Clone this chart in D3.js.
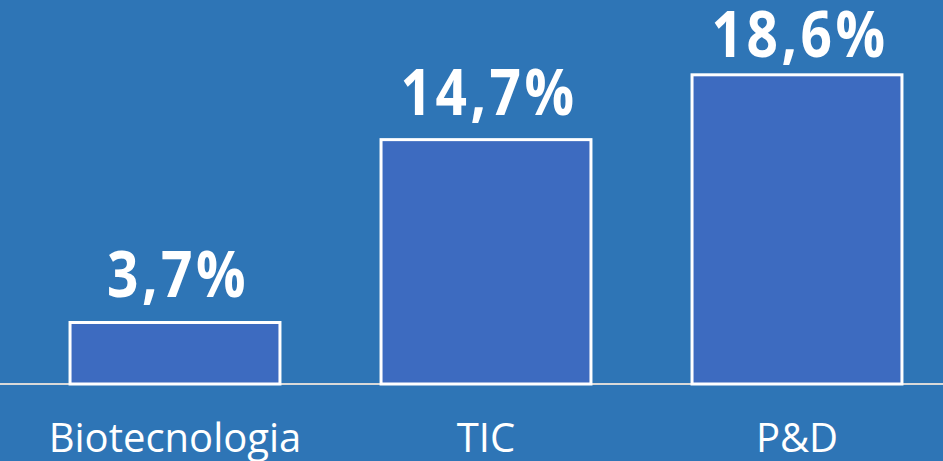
<!DOCTYPE html>
<html>
<head>
<meta charset="utf-8">
<script src="https://cdn.jsdelivr.net/npm/d3@7"></script>
<style>
  html, body { margin: 0; padding: 0; background: #2E75B6; }
  svg { display: block; }
</style>
</head>
<body>
<svg id="chart" width="943" height="461"></svg>
<script>
// Share of each sector
const categories = ["Biotecnologia", "TIC", "P&D"];
const values = [3.7, 14.7, 18.6];
const valueLabels = ["3,7%", "14,7%", "18,6%"];

const W = 943, H = 461;
const baseY = 384;

const svg = d3.select("#chart");

svg.append("rect").attr("width", W).attr("height", H).attr("fill", "#2E75B6");

const x = d3.scaleBand()
  .domain(categories)
  .range([19.5, 952.5])
  .paddingInner(0.325)
  .paddingOuter(0.1625);

const y = d3.scaleLinear()
  .domain([0, 23.1])
  .range([baseY, 0]);

// baseline
svg.append("line")
  .attr("x1", 0).attr("x2", W)
  .attr("y1", baseY).attr("y2", baseY)
  .attr("stroke", "#D9D9D9")
  .attr("stroke-width", 2);

// bars
svg.selectAll("rect.bar")
  .data(values)
  .join("rect")
  .attr("class", "bar")
  .attr("x", (d, i) => x(categories[i]))
  .attr("y", d => y(d))
  .attr("width", x.bandwidth())
  .attr("height", d => baseY - y(d))
  .attr("fill", "#3D6BC0")
  .attr("stroke", "#FFFFFF")
  .attr("stroke-width", 3);

// value labels
svg.selectAll("text.val")
  .data(values)
  .join("text")
  .attr("class", "val")
  .attr("transform", (d, i) => {
    const cx = x(categories[i]) + x.bandwidth() / 2 + 3;
    const cy = Math.max(y(d) - 25, 57);
    return `translate(${cx},${cy}) scale(0.86,1)`;
  })
  .attr("text-anchor", "middle")
  .attr("font-family", "'Open Sans', sans-serif")
  .attr("font-weight", "bold")
  .attr("font-size", 64)
  .attr("letter-spacing", 4)
  .attr("fill", "#FFFFFF")
  .text((d, i) => valueLabels[i]);

// category labels
svg.selectAll("text.cat")
  .data(categories)
  .join("text")
  .attr("class", "cat")
  .attr("x", d => x(d) + x.bandwidth() / 2)
  .attr("y", 452)
  .attr("text-anchor", "middle")
  .attr("font-family", "'Open Sans', sans-serif")
  .attr("font-size", 40)
  .attr("fill", "#FFFFFF")
  .text(d => d);
</script>
</body>
</html>
